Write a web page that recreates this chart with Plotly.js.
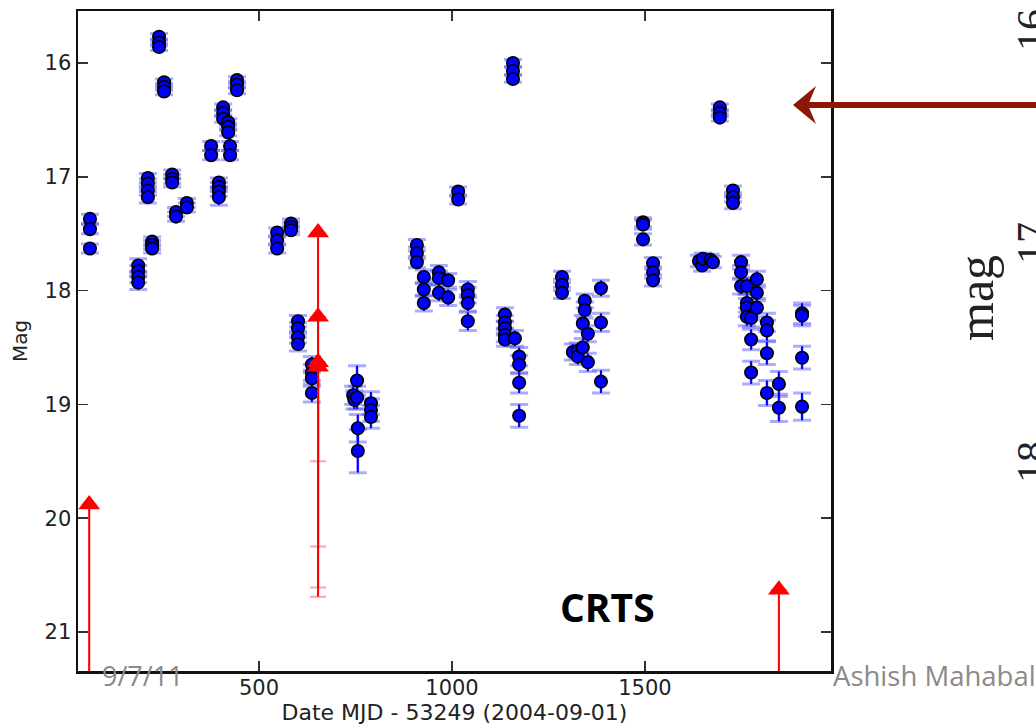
<!DOCTYPE html>
<html>
<head>
<meta charset="utf-8">
<script src="https://cdn.plot.ly/plotly-3.0.1.min.js"></script>
<style>html,body{margin:0;padding:0;background:#fff;}#chart{width:1036px;height:725px;}</style>
</head>
<body>
<div id="chart"></div>
<script>
// Detections: days since MJD 53249, magnitude, magnitude error
var days = [62,62,62, 187,187,187,187, 212,212,212,212, 223,223,223, 241,241,241, 254,254,254,
  275,275,275, 285,285, 313,313, 376,376, 396,396,396,396, 407,407,407, 420,420,420, 425,425,
  443,443,443, 547,547,547, 583,583,583, 601,601,601,601, 637,637,637,637,
  744,747,754,754,756,756, 790,790,790, 909,909,909, 927,927,927, 966,966,966, 990,990,
  1041,1041,1041,1041, 1016,1016, 1158,1158,1158, 1137,1137,1137,1137,1137,
  1163,1174,1174,1174,1174, 1285,1285,1285, 1313,1326,1326,1339,1339,1344,1344,1352,1352,
  1386,1386,1386, 1495,1495,1495, 1521,1521,1521, 1640,1648,1650,1670,1676,
  1694,1694,1694, 1728,1728,1728, 1749,1749,1749, 1764,1764,1764,1764,1775,1775,1775,
  1790,1790,1790, 1816,1816,1816,1816, 1847,1847, 1907,1907,1907,1907];
var mags = [17.37,17.46,17.63, 17.78,17.83,17.88,17.93, 17.01,17.06,17.12,17.18, 17.57,17.60,17.63,
  15.77,15.82,15.86, 16.17,16.21,16.25, 16.98,17.02,17.05, 17.31,17.35, 17.23,17.27, 16.73,16.81,
  17.05,17.09,17.13,17.18, 16.39,16.44,16.49, 16.52,16.56,16.61, 16.73,16.81,
  16.15,16.19,16.24, 17.49,17.56,17.63, 17.41,17.44,17.47, 18.27,18.33,18.41,18.47, 18.65,18.72,18.77,18.90,
  18.92,18.96,18.79,18.94,19.21,19.41, 18.99,19.05,19.11, 17.60,17.67,17.75, 17.88,17.99,18.11,
  17.84,17.89,18.02, 17.91,18.06, 17.99,18.04,18.11,18.27, 17.13,17.20, 16.00,16.07,16.14,
  18.21,18.28,18.33,18.39,18.43, 18.42,18.58,18.65,18.81,19.10, 17.88,17.95,18.02,
  18.54,18.53,18.58,18.29,18.50,18.09,18.17,18.38,18.63, 17.98,18.28,18.80, 17.40,17.42,17.55,
  17.76,17.84,17.91, 17.74,17.78,17.72,17.73,17.75, 16.39,16.44,16.48, 17.12,17.18,17.23,
  17.75,17.84,17.96, 17.96,18.11,18.15,18.23,18.24,18.43,18.72, 17.90,18.02,18.15,
  18.28,18.35,18.55,18.90, 18.82,19.03, 18.20,18.22,18.59,19.02];
var errs = [0.04,0.04,0.04, 0.06,0.05,0.05,0.06, 0.04,0.04,0.04,0.05, 0.04,0.04,0.04,
  0.03,0.03,0.03, 0.03,0.03,0.03, 0.04,0.04,0.04, 0.04,0.04, 0.04,0.04, 0.04,0.04,
  0.04,0.04,0.04,0.07, 0.03,0.03,0.03, 0.03,0.03,0.03, 0.04,0.04,
  0.03,0.03,0.03, 0.04,0.04,0.04, 0.04,0.04,0.04, 0.05,0.05,0.05,0.06, 0.07,0.07,0.07,0.08,
  0.08,0.08,0.13,0.10,0.12,0.19, 0.10,0.10,0.10, 0.05,0.05,0.05, 0.06,0.06,0.07,
  0.06,0.06,0.07, 0.06,0.07, 0.07,0.07,0.07,0.08, 0.04,0.04, 0.03,0.03,0.03,
  0.06,0.06,0.06,0.06,0.06, 0.07,0.08,0.08,0.09,0.10, 0.05,0.05,0.05,
  0.07,0.07,0.07,0.07,0.08,0.06,0.07,0.07,0.08, 0.07,0.08,0.10, 0.04,0.04,0.05,
  0.05,0.05,0.05, 0.05,0.05,0.05,0.05,0.05, 0.03,0.03,0.03, 0.04,0.04,0.05,
  0.06,0.06,0.07, 0.07,0.08,0.08,0.08,0.08,0.09,0.10, 0.07,0.07,0.08,
  0.08,0.09,0.10,0.11, 0.11,0.12, 0.09,0.09,0.10,0.12];

// Upper limits (non-detections)
var limDays = [60, 653, 653, 653, 653, 1847];
var limMags = [19.88, 17.49, 18.23, 18.63, 18.67, 20.63];
var limErrs = [2.0, 3.12, 2.02, 0.87, 2.02, 1.6];

// Tick values
var xTicks = [500, 1000, 1500];
var yTicks = [16, 17, 18, 19, 20, 21];

var clear = 'rgba(0,0,0,0)';
var traces = [
  {x: days, y: mags, type: 'scatter', mode: 'markers', marker: {color: clear, size: 1},
   error_y: {type: 'data', array: errs, color: 'rgba(70,70,255,0.45)', thickness: 3, width: 9}},
  {x: days, y: mags, type: 'scatter', mode: 'markers',
   marker: {color: '#0000ff', size: 12.5, line: {color: '#000', width: 1.6}},
   error_y: {type: 'data', array: errs, color: '#0000ff', thickness: 2, width: 0}},
  {x: limDays, y: limMags, type: 'scatter', mode: 'markers', marker: {color: clear, size: 1},
   error_y: {type: 'data', symmetric: false, array: limErrs, arrayminus: [0,0,0,0,0,0],
     color: 'rgba(255,90,90,0.55)', thickness: 2, width: 8}},
  {x: limDays, y: limMags, type: 'scatter', mode: 'markers',
   marker: {color: '#ff0000', size: 19, symbol: 'triangle-up'},
   error_y: {type: 'data', symmetric: false, array: limErrs, arrayminus: [0,0,0,0,0,0],
     color: '#ff0000', thickness: 2, width: 0}}
];

var W = 753, H = 660, L = 78, T = 11;
function px(x) { return (x - L) / W; }
function py(y) { return (T + H - y) / H; }
var arrowCol = '#8e1605';

var layout = {
  width: 1036, height: 725,
  margin: {l: L, r: 1036 - L - W, t: T, b: 725 - T - H, pad: 0},
  paper_bgcolor: '#fff', plot_bgcolor: '#fff',
  showlegend: false, hovermode: false,
  font: {family: 'DejaVu Sans', color: '#222'},
  xaxis: {
    range: [31, 1982], tickvals: xTicks, ticks: 'inside', ticklen: 10, tickwidth: 1.5,
    tickcolor: '#333', mirror: 'ticks', showline: true, linewidth: 2.5, linecolor: '#111',
    showgrid: false, zeroline: false, tickfont: {size: 21, color: '#222'}, ticklabelstandoff: -4,
    title: {text: 'Date MJD - 53249 (2004-09-01)', font: {size: 22, color: '#222'}, standoff: 6}
  },
  yaxis: {
    range: [21.343, 15.543], tickvals: yTicks, ticks: 'inside', ticklen: 10, tickwidth: 1.5,
    tickcolor: '#333', mirror: 'ticks', showline: true, linewidth: 2.5, linecolor: '#111',
    showgrid: false, zeroline: false, tickfont: {size: 21, color: '#222'},
    title: {text: 'Mag', font: {size: 20, color: '#222'}, standoff: 12}
  },
  annotations: [
    {xref: 'paper', yref: 'paper', x: px(607), y: py(606), text: '<b>CRTS</b>', showarrow: false,
     font: {family: 'Open Sans', size: 39, color: '#000'}, xanchor: 'center', yanchor: 'middle'},
    {xref: 'paper', yref: 'paper', x: px(100), y: py(675), text: '9/7/11', showarrow: false,
     font: {family: 'Open Sans', size: 27, color: '#8a8a8a'}, xanchor: 'left', yanchor: 'middle'},
    {xref: 'paper', yref: 'paper', x: px(831), y: py(675), text: 'Ashish Mahabal', showarrow: false,
     font: {family: 'Open Sans', size: 27.5, color: '#8a8a8a'}, xanchor: 'left', yanchor: 'middle'},
    {xref: 'paper', yref: 'paper', x: px(976), y: py(298), text: 'mag', showarrow: false, textangle: -90,
     font: {family: 'Liberation Serif', size: 50, color: '#222'}, xanchor: 'center', yanchor: 'middle'},
    {xref: 'paper', yref: 'paper', x: px(1032), y: py(30), text: '16', showarrow: false, textangle: -90,
     font: {family: 'Liberation Serif', size: 42, color: '#222'}, xanchor: 'center', yanchor: 'middle'},
    {xref: 'paper', yref: 'paper', x: px(1032), y: py(243), text: '17', showarrow: false, textangle: -90,
     font: {family: 'Liberation Serif', size: 42, color: '#222'}, xanchor: 'center', yanchor: 'middle'},
    {xref: 'paper', yref: 'paper', x: px(1032), y: py(462), text: '18', showarrow: false, textangle: -90,
     font: {family: 'Liberation Serif', size: 42, color: '#222'}, xanchor: 'center', yanchor: 'middle'}
  ],
  shapes: [
    {type: 'line', xref: 'paper', yref: 'paper', x0: px(806), x1: px(1050), y0: py(105), y1: py(105),
     line: {color: arrowCol, width: 6}},
    {type: 'path', xref: 'paper', yref: 'paper', xsizemode: 'pixel', ysizemode: 'pixel',
     xanchor: px(793), yanchor: py(105), path: 'M0,0 L23,19 L15,0 L23,-19 Z',
     fillcolor: arrowCol, line: {width: 0}}
  ]
};

Plotly.newPlot('chart', traces, layout, {displayModeBar: false, staticPlot: true});
</script>
</body>
</html>
